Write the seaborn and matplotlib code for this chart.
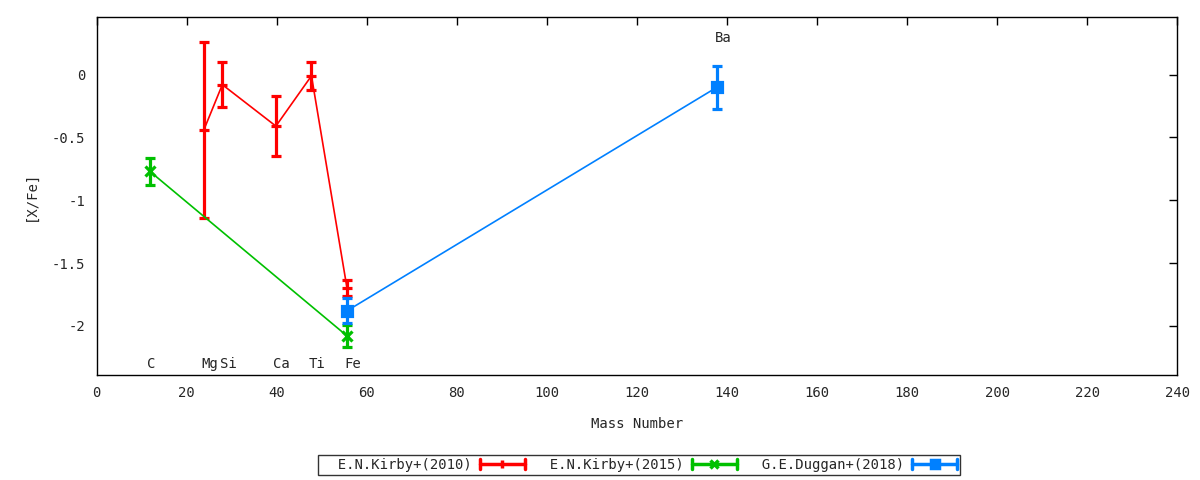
import numpy as np
import pandas as pd
import matplotlib
matplotlib.use("Agg")
import matplotlib.pyplot as plt
import seaborn as sns
from matplotlib.legend_handler import HandlerBase
from matplotlib.lines import Line2D

# Data
kirby10_mass = [23.8, 27.9, 39.8, 47.7, 55.6]
kirby10_val = [-0.44, -0.08, -0.41, -0.01, -1.70]
kirby10_err = [0.70, 0.18, 0.24, 0.11, 0.065]

kirby15_mass = [11.8, 55.6]
kirby15_val = [-0.77, -2.08]
kirby15_err = [0.11, 0.09]

duggan18_mass = [55.6, 137.8]
duggan18_val = [-1.88, -0.10]
duggan18_err = [0.10, 0.17]

elem_names = ['C', 'Mg', 'Si', 'Ca', 'Ti', 'Fe', 'Ba']
elem_mass = [11.8, 23.8, 27.9, 39.8, 47.7, 55.6, 137.8]
elem_label_y = [-2.3, -2.3, -2.3, -2.3, -2.3, -2.3, 0.29]

series = [
    ("E.N.Kirby+(2010)", kirby10_mass, kirby10_val, kirby10_err, "#ff0000", "_"),
    ("E.N.Kirby+(2015)", kirby15_mass, kirby15_val, kirby15_err, "#00c000", "x"),
    ("G.E.Duggan+(2018)", duggan18_mass, duggan18_val, duggan18_err, "#0080ff", "s"),
]

sns.set_theme(style="white")
plt.rcParams['font.family'] = ['DejaVu Sans Mono']
plt.rcParams['font.size'] = 10

fig = plt.figure(figsize=(12, 4.8), dpi=100)
ax = fig.add_axes([0.0806, 0.219, 0.9004, 0.746])

for name, m, v, e, col, mk in series:
    df = pd.DataFrame({"mass": m, "val": v})
    sns.lineplot(data=df, x="mass", y="val", ax=ax, color=col, lw=1.2,
                 sort=False, estimator=None, legend=False)
    ax.errorbar(m, v, yerr=e, fmt='none', ecolor=col, elinewidth=2.3,
                capsize=3.5, capthick=2.3)
    ax.plot(m, v, ls='none', marker=mk, color=col, ms=6.5, mew=2.3)

# element labels
for n, x, y in zip(elem_names, elem_mass, elem_label_y):
    ax.text(x - 0.6, y, n, ha='left', va='center', fontsize=10)

ax.set_xlim(0, 240)
ax.set_ylim(-2.39, 0.46)
ax.set_xticks(np.arange(0, 241, 20))
ax.set_yticks([0, -0.5, -1, -1.5, -2])
ax.set_yticklabels(['0', '-0.5', '-1', '-1.5', '-2'])
ax.tick_params(direction='in', length=6, width=1, top=True, right=True,
               color='black', labelsize=10, pad=8)
for s in ax.spines.values():
    s.set_color('black')
    s.set_linewidth(1)
ax.set_xlabel("Mass Number", fontsize=10, labelpad=12)
ax.set_ylabel("[X/Fe]", fontsize=10, labelpad=10)


# gnuplot-like key sample: horizontal bar with end caps and point
class ErrHandler(HandlerBase):
    def __init__(self, color, marker):
        super().__init__()
        self.color = color
        self.marker = marker

    def create_artists(self, legend, orig_handle, xdescent, ydescent,
                       width, height, fontsize, trans):
        yc = height / 2 - ydescent
        x0, x1 = -xdescent, width - xdescent
        arts = [Line2D([x0, x1], [yc, yc], color=self.color, lw=2.5),
                Line2D([x0, x0], [yc - 3.5, yc + 3.5], color=self.color, lw=2.5),
                Line2D([x1, x1], [yc - 3.5, yc + 3.5], color=self.color, lw=2.5),
                Line2D([(x0 + x1) / 2], [yc], color=self.color, marker=self.marker,
                       ms=6, mew=2.5, ls='none')]
        for a in arts:
            a.set_transform(trans)
        return arts


handles = []
hmap = {}
for name, m, v, e, col, mk in series:
    h = Line2D([], [], color=col)
    handles.append(h)
    hmap[h] = ErrHandler(col, '|' if mk == '_' else mk)

leg = fig.legend(handles, ["  " + s[0] for s in series], handler_map=hmap,
                 loc='center', bbox_to_anchor=(0.5325, 0.031), ncol=3,
                 markerfirst=False, frameon=True, fancybox=False,
                 edgecolor='black', handlelength=3.2, columnspacing=0.6,
                 borderpad=0.2, borderaxespad=0, handletextpad=0.6, fontsize=10)
leg.get_frame().set_linewidth(1)

fig.savefig("out.png", dpi=100)
